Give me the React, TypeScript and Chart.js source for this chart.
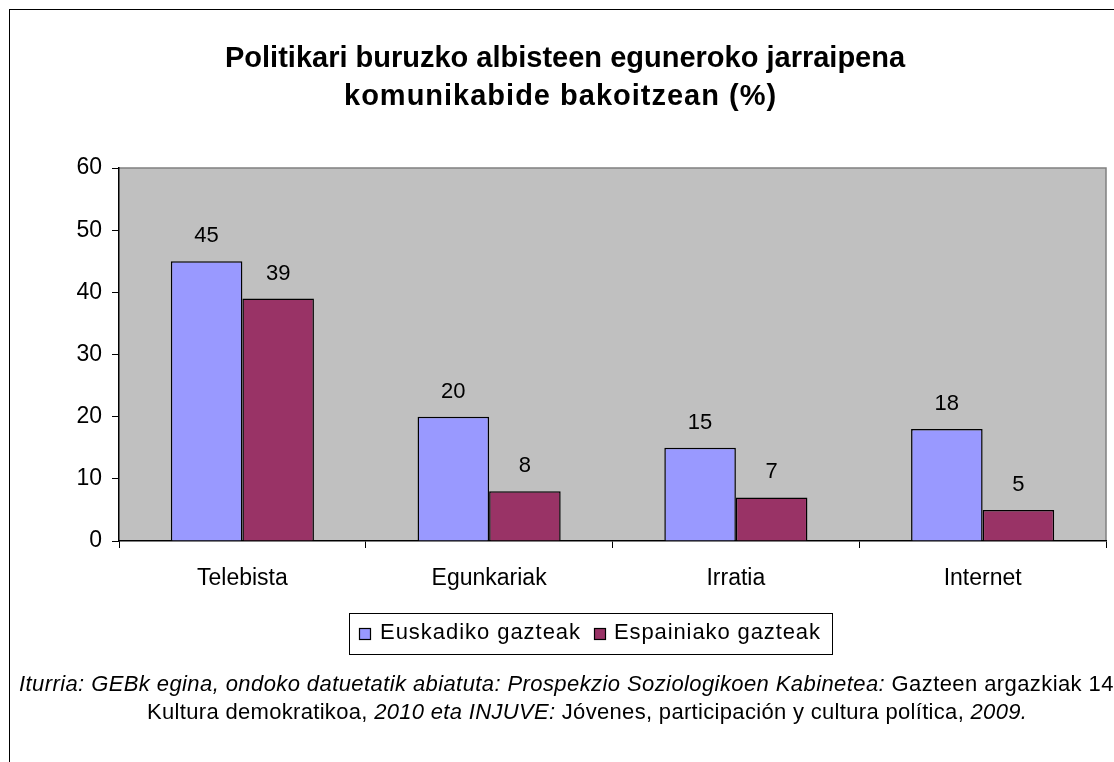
import React, { useEffect, useRef } from "react";
import { Chart, registerables } from "chart.js";

Chart.register(...registerables);

const categories = ["Telebista", "Egunkariak", "Irratia", "Internet"];
const seriesNames = ["Euskadiko gazteak", "Espainiako gazteak"];
const euskadiValues = [45, 20, 15, 18];
const espainiaValues = [39, 8, 7, 5];
const yMin = 0;
const yMax = 60;
const yStep = 10;
const titleLines = [
  "Politikari buruzko albisteen eguneroko jarraipena",
  "komunikabide bakoitzean (%)",
];
const sourceLine1 = [
  { text: "Iturria: GEBk egina, ondoko datuetatik abiatuta: Prospekzio Soziologikoen Kabinetea: ", italic: true },
  { text: "Gazteen argazkiak 14", italic: false },
];
const sourceLine2 = [
  { text: "Kultura demokratikoa, ", italic: false },
  { text: "2010 eta INJUVE: ", italic: true },
  { text: "Jóvenes, participación y cultura política, ", italic: false },
  { text: "2009.", italic: true },
];

const FONT = "'Liberation Sans', Arial, sans-serif";
const BLUE = "#9999FF";
const MAROON = "#993366";
const PLOT_BG = "#C0C0C0";

const W = 1114;
const H = 762;

type Run = { text: string; italic: boolean; bold?: boolean };

// draw text runs from x0 so that the whole line spans targetWidth
function drawFitted(ctx: any, runs: Run[], x0: number, y: number, size: number, targetWidth: number) {
  const fontFor = (r: Run) => `${r.italic ? "italic " : ""}${r.bold ? "bold " : ""}${size}px ${FONT}`;
  ctx.letterSpacing = "0px";
  let natural = 0;
  let chars = 0;
  for (const r of runs) {
    ctx.font = fontFor(r);
    natural += ctx.measureText(r.text).width;
    chars += r.text.length;
  }
  const sp = Math.max(0, (targetWidth - natural) / Math.max(1, chars - 1));
  ctx.letterSpacing = `${sp.toFixed(2)}px`;
  ctx.textAlign = "left";
  ctx.textBaseline = "alphabetic";
  let cx = x0;
  for (const r of runs) {
    ctx.font = fontFor(r);
    ctx.fillText(r.text, cx, y);
    cx += ctx.measureText(r.text).width;
  }
  ctx.letterSpacing = "0px";
}

const decorPlugin = {
  id: "decor",
  beforeDraw(chart: any) {
    const { ctx, chartArea } = chart;
    const { left, top, right, bottom } = chartArea;
    ctx.save();
    ctx.fillStyle = "#FFFFFF";
    ctx.fillRect(0, 0, W, H);
    // outer frame
    ctx.strokeStyle = "#000000";
    ctx.lineWidth = 1;
    ctx.strokeRect(9.5, 9.5, W + 50, H + 50);
    // plot background
    ctx.fillStyle = PLOT_BG;
    ctx.fillRect(left, top, right - left, bottom - top);
    ctx.strokeStyle = "#808080";
    ctx.lineWidth = 1.5;
    ctx.beginPath();
    ctx.moveTo(left, top);
    ctx.lineTo(right, top);
    ctx.lineTo(right, bottom);
    ctx.stroke();
    // title
    ctx.fillStyle = "#000000";
    drawFitted(ctx, [{ text: titleLines[0], italic: false, bold: true }], 225, 67, 29, 678);
    drawFitted(ctx, [{ text: titleLines[1], italic: false, bold: true }], 344, 105, 29, 432);
    ctx.restore();
  },
  afterDraw(chart: any) {
    const { ctx } = chart;
    ctx.save();
    // data labels
    ctx.fillStyle = "#000000";
    ctx.font = `22px ${FONT}`;
    ctx.textAlign = "center";
    ctx.textBaseline = "alphabetic";
    chart.data.datasets.forEach((ds: any, di: number) => {
      const meta = chart.getDatasetMeta(di);
      meta.data.forEach((bar: any, i: number) => {
        ctx.fillText(String(ds.data[i]), bar.x, bar.y - 19);
      });
    });
    // legend
    const lx = 349.5, ly = 613.5, lw = 483, lh = 41;
    ctx.strokeStyle = "#000000";
    ctx.lineWidth = 1;
    ctx.strokeRect(lx, ly, lw, lh);
    const items = [
      { name: seriesNames[0], color: BLUE, mx: 359, tx: 380, tw: 200 },
      { name: seriesNames[1], color: MAROON, mx: 594, tx: 614, tw: 206 },
    ];
    for (const it of items) {
      ctx.fillStyle = it.color;
      ctx.fillRect(it.mx, 628, 12, 12);
      ctx.strokeStyle = "#000000";
      ctx.lineWidth = 1.2;
      ctx.strokeRect(it.mx + 0.5, 628.5, 11, 11);
      ctx.fillStyle = "#000000";
      drawFitted(ctx, [{ text: it.name, italic: false }], it.tx, 639, 22, it.tw);
    }
    // source text
    ctx.fillStyle = "#000000";
    drawFitted(ctx, sourceLine1, 19, 691, 22, 1094);
    drawFitted(ctx, sourceLine2, 147, 719, 22, 880);
    ctx.restore();
  },
};

export default function App() {
  const ref = useRef<HTMLCanvasElement | null>(null);
  useEffect(() => {
    document.body.style.margin = "0";
    const canvas = ref.current;
    if (!canvas) return;
    const chart = new Chart(canvas, {
      type: "bar",
      data: {
        labels: categories,
        datasets: [
          {
            label: seriesNames[0],
            data: euskadiValues,
            backgroundColor: BLUE,
            borderColor: "#000000",
            borderWidth: 1.5,
            categoryPercentage: 0.58,
            barPercentage: 1.0,
          },
          {
            label: seriesNames[1],
            data: espainiaValues,
            backgroundColor: MAROON,
            borderColor: "#000000",
            borderWidth: 1.5,
            categoryPercentage: 0.58,
            barPercentage: 1.0,
          },
        ],
      },
      options: {
        responsive: false,
        animation: false,
        devicePixelRatio: 1,
        layout: { padding: { left: 0, top: 168, right: 8, bottom: 161 } },
        plugins: {
          legend: { display: false },
          title: { display: false },
          tooltip: { enabled: false },
        },
        scales: {
          x: {
            offset: true,
            grid: {
              offset: true,
              display: true,
              drawOnChartArea: false,
              drawTicks: true,
              tickLength: 7,
              color: "#000000",
              lineWidth: 1,
            },
            border: { display: true, color: "#000000", width: 1.5 },
            ticks: {
              color: "#000000",
              font: { family: FONT, size: 23 },
              padding: 17,
              maxRotation: 0,
            },
            afterFit: (s: any) => {
              s.height = 60;
            },
          },
          y: {
            min: yMin,
            max: yMax,
            grid: {
              display: true,
              drawOnChartArea: false,
              drawTicks: true,
              tickLength: 7,
              color: "#000000",
              lineWidth: 1,
            },
            border: { display: true, color: "#000000", width: 1.5 },
            ticks: {
              stepSize: yStep,
              color: "#000000",
              font: { family: FONT, size: 23 },
              padding: 10,
            },
            afterFit: (s: any) => {
              s.width = 119;
            },
          },
        },
      },
      plugins: [decorPlugin],
    });
    return () => chart.destroy();
  }, []);
  return <canvas ref={ref} width={W} height={H} style={{ display: "block", width: W, height: H }} />;
}
